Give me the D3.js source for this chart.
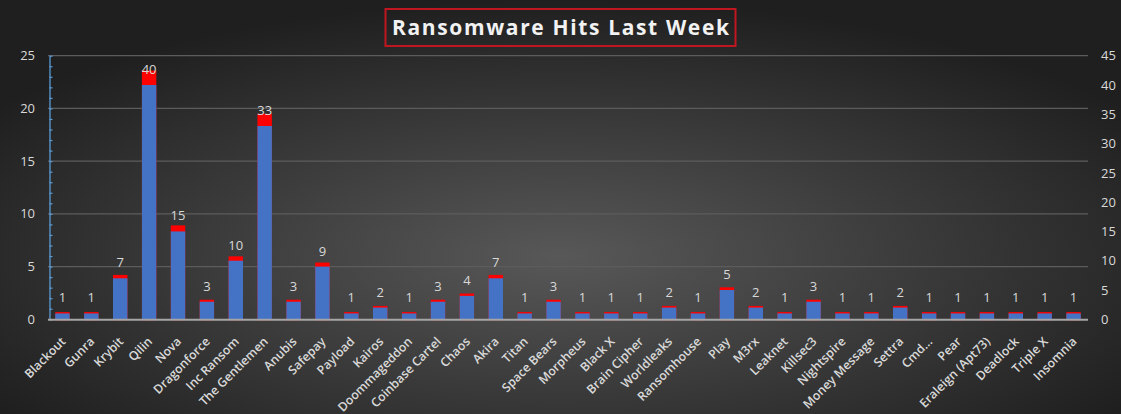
<!DOCTYPE html>
<html>
<head>
<meta charset="utf-8">
<script src="https://cdn.jsdelivr.net/npm/d3@7/dist/d3.min.js"></script>
<style>
  body { margin: 0; background: #2a2a2a; }
  svg { display: block; font-family: "Open Sans", "DejaVu Sans", sans-serif; }
</style>
</head>
<body>
<svg class="chart" width="1121" height="414"></svg>
<script>
// groups seen on leak sites last week
var groups = ['Blackout', 'Gunra', 'Krybit', 'Qilin', 'Nova', 'Dragonforce', 'Inc Ransom',
    'The Gentlemen', 'Anubis', 'Safepay', 'Payload', 'Kairos', 'Doommageddon', 'Coinbase Cartel',
    'Chaos', 'Akira', 'Titan', 'Space Bears', 'Morpheus', 'Black X', 'Brain Cipher', 'Worldleaks',
    'Ransomhouse', 'Play', 'M3rx', 'Leaknet', 'Killsec3', 'Nightspire', 'Money Message', 'Settra',
    'Cmd...', 'Pear', 'Eraleign (Apt73)', 'Deadlock', 'Triple X', 'Insomnia'];

// hits (blue series, right axis)
var hits = [1, 1, 7, 40, 15, 3, 10, 33, 3, 9, 1, 2, 1, 3, 4, 7, 1, 3, 1, 1, 1, 2, 1, 5, 2, 1, 3,
    1, 1, 2, 1, 1, 1, 1, 1, 1];

// second series peeking out on top (red) - same counts
var hitsTop = [1, 1, 7, 40, 15, 3, 10, 33, 3, 9, 1, 2, 1, 3, 4, 7, 1, 3, 1, 1, 1, 2, 1, 5, 2, 1, 3,
    1, 1, 2, 1, 1, 1, 1, 1, 1];

var leftTicks = [0, 5, 10, 15, 20, 25];
var rightTicks = [0, 5, 10, 15, 20, 25, 30, 35, 40, 45];

var chartTitle = 'Ransomware Hits Last Week';

var W = 1121, H = 414;
var plot = {left: 48, right: 1088, top: 55.7, bottom: 319.3};

var svg = d3.select('.chart');

// background
var defs = svg.append('defs');
var grad = defs.append('radialGradient')
    .attr('id', 'bg')
    .attr('cx', '50%').attr('cy', '62%').attr('r', '62%')
    .attr('gradientUnits', 'objectBoundingBox');
grad.append('stop').attr('offset', '0%').attr('stop-color', '#585858');
grad.append('stop').attr('offset', '100%').attr('stop-color', '#1f1f1f');

svg.append('rect')
    .attr('width', W).attr('height', H)
    .attr('fill', 'url(#bg)');

var x = d3.scaleBand()
    .domain(groups)
    .range([plot.left, plot.right])
    .paddingInner(0.5)
    .paddingOuter(0.25);

var yLeft = d3.scaleLinear().domain([0, 25]).range([plot.bottom, plot.top]);
var yRight = d3.scaleLinear().domain([0, 45]).range([plot.bottom, plot.top]);
// red series sits on its own (hidden) scale, a bit taller than the blue one
var yTop = d3.scaleLinear().domain([0, 42.55]).range([plot.bottom, plot.top]);

// gridlines on the left axis
svg.append('g')
    .selectAll('line')
    .data(leftTicks.slice(1))
    .enter().append('line')
    .attr('x1', plot.left).attr('x2', plot.right)
    .attr('y1', function(d) { return yLeft(d); })
    .attr('y2', function(d) { return yLeft(d); })
    .attr('stroke', '#5c5c5c')
    .attr('stroke-width', 1.3);

// left axis: blue line with minor ticks pointing inward
var yAxisLeft = d3.axisRight(yLeft)
    .ticks(25)
    .tickSize(3)
    .tickSizeOuter(0)
    .tickFormat('');

var gl = svg.append('g')
    .attr('transform', 'translate(' + (plot.left + 1.5) + ',0)')
    .call(yAxisLeft);
gl.select('.domain').attr('stroke', '#5b9bd5').attr('stroke-width', 1.3);
gl.selectAll('.tick line').attr('stroke', '#5b9bd5').attr('stroke-width', 1.2);

// left tick labels
svg.append('g')
    .selectAll('text')
    .data(leftTicks)
    .enter().append('text')
    .attr('x', 35)
    .attr('y', function(d) { return yLeft(d); })
    .attr('dy', '0.35em')
    .attr('text-anchor', 'end')
    .attr('fill', '#d9d9d9')
    .style('font-size', '13px')
    .text(function(d) { return d; });

// right tick labels (no axis line)
var yAxisRight = d3.axisRight(yRight)
    .tickValues(rightTicks)
    .tickSize(0)
    .tickPadding(0);

var gr = svg.append('g')
    .attr('transform', 'translate(1101,0)')
    .call(yAxisRight);
gr.select('.domain').remove();
gr.selectAll('text')
    .attr('fill', '#d9d9d9')
    .style('font-size', '13px')
    .style('font-family', '"Open Sans", sans-serif');

// bars: red behind, blue in front
var bars = svg.append('g');

bars.selectAll('rect.top')
    .data(hitsTop)
    .enter().append('rect')
    .attr('class', 'top')
    .attr('x', function(d, i) { return x(groups[i]) + 1; })
    .attr('width', x.bandwidth() - 2)
    .attr('y', function(d) { return yTop(d); })
    .attr('height', function(d) { return plot.bottom - yTop(d); })
    .attr('fill', '#ff0000')
    .attr('stroke', '#ff0000')
    .attr('stroke-width', 2);

bars.selectAll('rect.hit')
    .data(hits)
    .enter().append('rect')
    .attr('class', 'hit')
    .attr('x', function(d, i) { return x(groups[i]); })
    .attr('width', x.bandwidth())
    .attr('y', function(d) { return yRight(d); })
    .attr('height', function(d) { return plot.bottom - yRight(d); })
    .attr('fill', '#4472c4');

// value labels
bars.selectAll('text')
    .data(hits)
    .enter().append('text')
    .attr('x', function(d, i) { return x(groups[i]) + x.bandwidth() / 2; })
    .attr('y', function(d) { return yRight(d) - 11; })
    .attr('text-anchor', 'middle')
    .attr('fill', '#d9d9d9')
    .style('font-size', '13px')
    .text(function(d) { return d; });

// category axis line
svg.append('line')
    .attr('x1', plot.left).attr('x2', plot.right)
    .attr('y1', plot.bottom + 0.5).attr('y2', plot.bottom + 0.5)
    .attr('stroke', '#a6a6a6')
    .attr('stroke-width', 2);

// rotated category labels
svg.append('g')
    .selectAll('text')
    .data(groups)
    .enter().append('text')
    .attr('transform', function(d) {
        var cx = x(d) + x.bandwidth() / 2;
        return 'translate(' + (cx + 4) + ',' + (plot.bottom + 23) + ') rotate(-45)';
    })
    .attr('text-anchor', 'end')
    .attr('fill', '#d9d9d9')
    .style('font-size', '12.3px')
    .style('font-weight', 600)
    .text(function(d) { return d; });

// title with red frame
svg.append('rect')
    .attr('x', 385.5).attr('y', 9)
    .attr('width', 350).attr('height', 37)
    .attr('fill', 'none')
    .attr('stroke', '#c0161f')
    .attr('stroke-width', 2);

svg.append('text')
    .attr('x', 560.5).attr('y', 35)
    .attr('text-anchor', 'middle')
    .attr('fill', '#f2f2f2')
    .style('font-size', '21px')
    .style('font-weight', 700)
    .attr('textLength', 337)
    .attr('lengthAdjust', 'spacing')
    .text(chartTitle);
</script>
</body>
</html>
